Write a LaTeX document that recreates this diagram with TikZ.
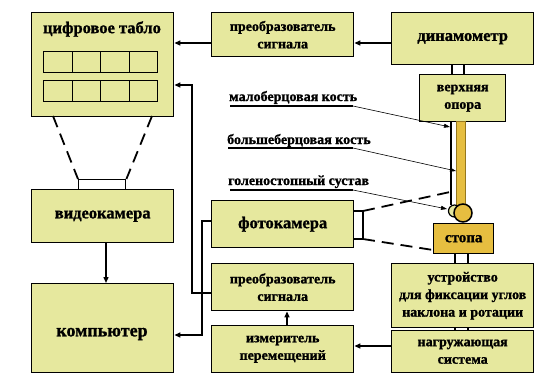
\documentclass[tikz,border=0pt]{standalone}
\usepackage{fontspec}
\setmainfont{Liberation Serif}[BoldFont={Liberation Serif Bold}]
\newfontfamily\tmsb{Liberation Serif Bold}[FakeBold=1.2]
\usetikzlibrary{arrows.meta}
\definecolor{boxfill}{RGB}{230,232,158}
\definecolor{gold}{RGB}{230,190,64}
\definecolor{golddark}{RGB}{150,120,30}
\tikzset{
  box/.style={draw, line width=1.4pt, fill=boxfill, inner sep=0pt, align=center, anchor=north west},
  bigf/.style={font=\tmsb\fontsize{16.5}{19}\selectfont},
  midf/.style={font=\tmsb\fontsize{14}{17.5}\selectfont},
  conn/.style={line width=1.4pt, -{Triangle[length=6pt,width=5pt]}},
  plain/.style={line width=1.4pt},
  thinarrow/.style={line width=0.6pt, -{Triangle[length=6pt,width=4pt]}},
  dashline/.style={line width=1.8pt, dash pattern=on 12pt off 7pt},
  lbl/.style={font=\tmsb\fontsize{14}{17}\selectfont, anchor=base west, inner sep=0pt},
}
\begin{document}
\begin{tikzpicture}[x=1pt,y=-1pt]
\useasboundingbox (0,0) rectangle (546,373);
% left column
\node[box, minimum width=142pt, minimum height=104pt] (tablo) at (31,12) {};
\node[bigf, inner sep=0pt] (tablot) at (102,29) {цифровое табло};
\foreach \r/\y in {1/51,2/80}{
  \foreach \c in {0,1,2,3}{
    \node[draw, line width=0.9pt, inner sep=0pt, minimum width=28.5pt, minimum height=21pt, anchor=north west] (cell\r\c) at ({43+28.5*\c},\y) {};
  }
}
\node[draw, line width=1.4pt, fill=white, inner sep=0pt, minimum width=47pt, minimum height=10pt, anchor=north west] (lens) at (78,179) {};
\coordinate (tl) at (53,116);
\coordinate (tr) at (152,116);
\draw[dashline] (tl) -- (lens.north west);
\draw[dashline] (tr) -- (lens.north east);
\node[box, bigf, minimum width=142pt, minimum height=53pt] (video) at (31,189) {видеокамера};
\node[box, minimum width=142pt, minimum height=89pt] (comp) at (31,283) {};
\node[font=\tmsb\fontsize{18}{20}\selectfont, inner sep=0pt] (compt) at (102,334) {компьютер};
% middle column
\node[box, midf, minimum width=142pt, minimum height=44pt] (conv1) at (211,12) {преобразователь\\сигнала};
\node[box, bigf, minimum width=142pt, minimum height=47pt] (photo) at (211,200) {фотокамера};
\node[box, midf, minimum width=142pt, minimum height=47pt] (conv2) at (211,263) {преобразователь\\сигнала};
\node[box, midf, minimum width=142pt, minimum height=47pt] (meas) at (211,325) {измеритель\\перемещений};
% right column
\node[box, bigf, minimum width=142pt, minimum height=52pt] (dyn) at (391,12) {динамометр};
\node[box, midf, minimum width=86pt, minimum height=47pt] (opora) at (419,74) {верхняя\\опора};
\node[box, midf, minimum width=142pt, minimum height=64pt] (dev) at (391,263) {устройство\\для фиксации углов\\наклона и ротации};
\node[box, midf, minimum width=142pt, minimum height=42pt] (load) at (391,330) {нагружающая\\система};
% leg
\draw[line width=1pt, draw=golddark, fill=gold] (456,121) rectangle (465,209);
\draw[line width=2pt] (451,121) -- (451,205);
\draw[line width=1.2pt, fill=boxfill] (454.5,211) circle (6pt);
\node[draw, line width=1.5pt, fill=gold, circle, minimum size=18pt, inner sep=0pt] (joint) at (463,213) {};
\node[box, fill=gold, font=\tmsb\fontsize{15}{17}\selectfont, minimum width=60pt, minimum height=30pt] (stopa) at (433,223) {стопа};
% double links
\draw[plain] (452,64) -- (452,74) (464,64) -- (464,74);
\draw[plain] (455,253) -- (455,263) (468,253) -- (468,263);
\draw[plain] (455,327) -- (455,330) (468,327) -- (468,330);
% camera bracket and dashed view lines
\coordinate (b1) at (363,211);
\coordinate (b2) at (363,239);
\draw[plain] (353,211) -- (b1) -- (b2) -- (353,239);
\coordinate (v1) at (450,192);
\draw[dashline] (b1) -- (v1);
\draw[dashline] (b2) -- (stopa.west |- 0,250);
% connectors
\draw[conn] (dyn.west |- 0,43) -- (conv1.east |- 0,43);
\draw[conn] (conv1.west |- 0,43) -- (tablo.east |- 0,43);
\draw[conn] (conv2.west |- 0,293) -- (192,293) -- (192,85) -- (tablo.east |- 0,85);
\draw[conn] (photo.west |- 0,221) -- (202,221) -- (202,335) -- (comp.east |- 0,335);
\draw[conn] (video.south -| 106,0) -- (comp.north -| 106,0);
\draw[conn] (meas.north -| 287,0) -- (conv2.south -| 287,0);
\draw[conn] (load.west |- 0,346) -- (meas.east |- 0,346);
% labels
\node[lbl] (l1) at (229,101) {малоберцовая кость};
\node[lbl] (l2) at (227,144) {большеберцовая кость};
\node[lbl] (l3) at (228,185) {голеностопный сустав};
\coordinate (u1) at (353,106);
\coordinate (u2) at (353,148);
\coordinate (u3) at (353,190);
\draw[line width=1.6pt] (230,106) -- (u1);
\draw[line width=1.6pt] (228,148) -- (u2);
\draw[line width=1.6pt] (230,190) -- (u3);
\coordinate (a1) at (450,127);
\coordinate (a2) at (456,171);
\coordinate (a3) at (447,209);
\draw[thinarrow] (u1) -- (a1);
\draw[thinarrow] (u2) -- (a2);
\draw[thinarrow] (u3) -- (a3);
\end{tikzpicture}
\end{document}
